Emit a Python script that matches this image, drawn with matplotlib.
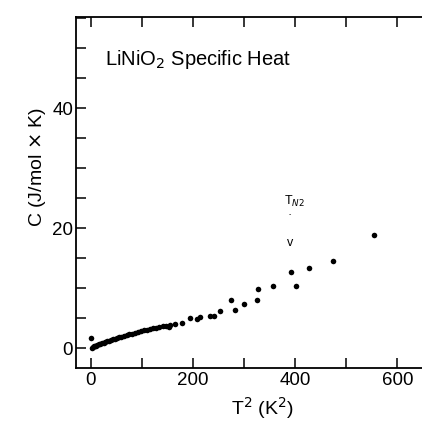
import matplotlib.pyplot as plt
from matplotlib.ticker import MultipleLocator

# dense low-temperature run (T^2 in K^2, C in J/mol K)
t2_dense = [2, 4, 6, 8, 10, 13, 16, 19, 22, 25, 28, 31, 35, 39, 43, 47, 51, 55,
            60, 65, 70, 75, 80, 86, 92, 98, 104, 110, 116, 122, 128, 134, 141,
            148, 155]
c_dense = [0.1, 0.2, 0.3, 0.38, 0.45, 0.55, 0.65, 0.75, 0.85, 0.95, 1.05, 1.15,
           1.27, 1.38, 1.5, 1.6, 1.7, 1.8, 1.93, 2.05, 2.17, 2.3, 2.43, 2.58,
           2.72, 2.88, 3.0, 3.12, 3.25, 3.35, 3.45, 3.55, 3.7, 3.75, 3.9]

# sparse points at higher temperature
t2_sparse = [1, 153, 164, 179, 195, 208, 213, 233, 241, 253, 275, 283, 300,
             326, 327, 357, 391, 401, 427, 473, 555]
c_sparse = [1.7, 3.55, 4.0, 4.2, 5.05, 4.83, 5.22, 5.38, 5.38, 6.2, 8.12, 6.45,
            7.45, 8.0, 9.95, 10.3, 12.7, 10.3, 13.3, 14.6, 18.8]

plt.rcParams["font.family"] = ["Liberation Sans", "DejaVu Sans"]

fig = plt.figure(figsize=(4.22, 4.25), dpi=100)
ax = fig.add_axes([0.18, 0.134, 0.883, 0.826])

ax.plot(t2_dense, c_dense, "o", color="black", markersize=4, markeredgewidth=0)
ax.plot(t2_sparse, c_sparse, "o", color="black", markersize=4, markeredgewidth=0)

ax.set_xlim(-29, 700)
ax.set_ylim(-3.3, 55.2)
ax.spines["right"].set_visible(False)
for s in ax.spines.values():
    s.set_linewidth(1.3)

ax.xaxis.set_major_locator(MultipleLocator(200))
ax.xaxis.set_minor_locator(MultipleLocator(100))
ax.yaxis.set_major_locator(MultipleLocator(20))
ax.yaxis.set_minor_locator(MultipleLocator(5))
ax.tick_params(which="both", direction="in", top=True, right=False, width=1.1,
               length=7, labelsize=13.5)
ax.tick_params(axis="y", pad=2)
ax.tick_params(axis="x", pad=3)
ax.set_yticks([0, 20, 40])

ax.set_xlabel("T$^2$ (K$^2$)", fontsize=14, labelpad=4)
ax.set_ylabel("C (J/mol $\\times$ K)", fontsize=14)
ax.yaxis.set_label_coords(-0.075, 0.573)

ax.text(27, 48.2, "LiNiO$_2$ Specific Heat", fontsize=14.5, va="center")
ax.text(378, 24.5, "T$_{N2}$", fontsize=9, va="center")
ax.text(389, 22.3, "-", fontsize=5, ha="center", va="center")
ax.text(389, 17.5, "v", fontsize=9, ha="center", va="center")

fig.savefig("out.png", dpi=100)
